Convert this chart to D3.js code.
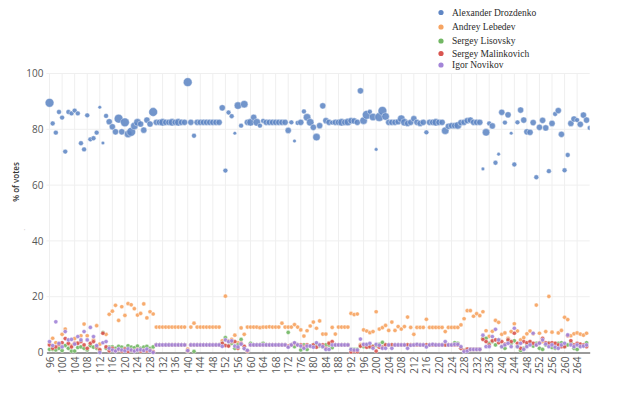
<!DOCTYPE html>
<html><head><meta charset="utf-8">
<script src="https://cdn.jsdelivr.net/npm/d3@7"></script>
<style>body{margin:0;background:#fff}</style>
</head><body><svg id="c" width="624" height="396"></svg>
<script>
// precinct numbers start at 96, one value per precinct
const firstPrecinct = 96;
const seriesNames = ["Alexander Drozdenko","Andrey Lebedev","Sergey Lisovsky","Sergey Malinkovich","Igor Novikov"];
const seriesColors = ["#5f86c4","#f6a462","#72b764","#d95550","#a385d8"];
const xTickLabels = d3.range(96, 268, 4);
const yTickLabels = [0,20,40,60,80,100];

const drozdenko = [
89.5,82.1,78.8,86.2,84.2,72,86.2,85.7,86.7,85.7,
75,72.8,85,76.4,76.8,78.8,87.9,75.1,84.8,82.7,
80.9,79.1,83.8,79.1,82.5,78.3,79.1,81.2,82.5,81.9,
79.7,83.3,81.9,86.2,82.5,82.5,82.5,82.5,82.5,82.5,
82.5,82.5,82.5,82.5,96.9,82.5,77.7,82.5,82.5,82.5,
82.5,82.5,82.5,82.5,82.5,87.7,65.2,86,84.7,78.6,
88.5,81.3,89,82.5,82.5,84.3,82.5,81.3,83,82.5,
82.5,82.5,82.5,82.5,82.5,82.5,79.6,82.5,75.8,82.3,
82.5,86.4,84.3,82.5,80.7,77.2,81.3,88.4,83.1,82.5,
82.4,82.5,82.5,82.5,82.5,82.6,83.1,83,82.5,93.8,
83.1,85.2,86.3,84.4,72.8,84.4,86.6,84.6,82.5,82.5,
82.5,82.7,83.8,82.5,82.1,82.5,83.8,82.5,82.1,82.5,
78.9,82.5,82.5,82.5,82.5,82.5,79.5,81.1,81.3,81.3,
81.4,82.4,82.5,83.1,83.3,82.5,82.5,82.5,65.8,78.9,
82.1,81.2,68,71.1,86.1,82.4,85.2,78.6,67.4,82.5,
86.9,83.3,79.1,78.9,82.4,62.8,80.7,83.2,80.5,65,
82.1,85.5,86.7,78.2,65.3,70.8,82.1,83.7,83.3,81.8,
85.1,83.3,80.5];
// relative marker weight (1 small .. 5 large)
const drozdenkoWeight = [
5,2,2,2,2,2,2,2,2,2,
2,2,2,2,2,2,1,1,2,3,
3,3,5,3,5,4,5,4,4,3,
3,3,3,5,3,3,4,3,3,4,
3,4,3,3,5,3,2,3,3,3,
3,3,3,3,3,3,2,2,2,1,
4,2,4,3,4,3,4,2,2,3,
3,3,3,3,3,3,3,2,1,2,
3,2,4,4,3,4,3,3,3,3,
2,3,3,4,3,4,3,3,3,3,
4,5,2,4,1,5,5,4,3,3,
3,3,4,4,3,3,3,3,3,3,
2,3,3,4,3,3,4,3,3,3,
4,3,3,3,3,3,3,3,1,4,
2,3,2,1,3,2,3,1,2,2,
3,3,3,3,3,2,3,3,3,2,
3,2,3,3,2,2,3,3,2,3,
3,3,2];
const lebedev = [
3,5.1,3.5,2.5,6.5,8.4,3,2.5,5,3.5,
6,10.2,6,2.5,4.5,9.6,3,6.9,6.5,13.7,
14.8,16.9,11.5,16.4,13.3,17.5,17.1,15.7,13.4,14,
17.4,12.4,14.6,13.8,9.1,9.1,9.1,9.1,9.1,9.1,
9.1,9.1,9.1,9.1,1.2,9.1,10.5,9.1,9.1,9.1,
9.1,9.1,9.1,9.1,9.1,4.2,20.2,4.2,4.7,6.2,
3.5,8.8,6.5,9.1,9.1,9.1,9.1,8.9,9.1,9.1,
9.2,9.1,9.1,9.1,10.5,9.1,9.1,9.1,10,9.1,
8.1,5.9,7.8,9.5,10.9,8.7,11.3,6.6,6.6,3.5,
9,6.6,9.1,9.1,9.1,9.1,14,13.6,13.8,2.8,
8.1,7.7,7.1,7.5,14.6,8.4,8.9,9.7,7.9,10.9,
7.9,9.3,8.4,9.3,12.7,9,6.5,9,9,9,
11.9,9,9,9,9,9,7.5,9,9,9,
9,9.9,12.1,15,15,13,13.9,13.2,14.6,7.8,
5.8,7.6,11.5,10.8,6.5,7,5.1,7.5,10.3,7.7,
4.5,5.3,6.7,7.7,6.7,17,6.9,3.9,7.5,20.1,
7.3,3.3,7,7.9,12.6,11.8,6,6.7,7,6.6,
6.2,6.9];
const lisovsky = [
1.1,1.1,0.9,1.5,0.7,2.5,1.5,0.5,0.5,1.8,
2,1.5,0.9,2.5,1.9,1.5,0.5,7.1,1.5,1.9,
2,1.5,2.2,1.9,1.5,2.4,1.9,1.7,2.3,1.5,
1.9,2.2,1.5,2,2.7,2.7,2.7,2.7,2.7,2.7,
2.7,2.7,2.7,2.7,0.4,2.7,0.4,2.7,2.7,2.7,
2.7,2.7,2.7,2.7,2.7,3.3,5.3,2.5,3.3,1.5,
2.7,4.7,1.5,0.5,3.3,2.7,2.7,2.7,3.3,2.7,
2.7,2.7,2.7,2.7,2.7,2.7,7.2,2.7,2.1,2.7,
0.9,2.7,1.1,2.3,2.7,2.7,2.3,2.1,2.7,2.7,
1.7,2.7,2.7,2.7,2.7,2.7,1.1,1.1,1.1,2.3,
2.1,2.7,1.9,2.3,2.5,2.9,3.6,2.7,2.7,2.7,
2.7,2.7,2.7,2.7,2.7,2.7,2.7,2.7,2.7,2.7,
2.7,2.7,2.7,2.7,2.7,2.7,2.7,2.7,2.7,3.5,
3.3,1.5,0.7,1.1,1.1,1.1,1.1,1.1,5.1,5.1,
3.3,3.9,2.7,4.5,2.1,1.5,4.5,3.3,4.2,2.1,
0.7,1.5,2.7,3.6,2.3,3.3,1.5,1.1,2.7,3.5,
1.8,1.5,3.3,3.5,2.1,2.7,3.5,1.5,1.1,2.7,
2.3,3.5];
const malinkovich = [
2.7,1.5,2,2.9,3.5,5,3.3,2,3.3,3.3,
3.9,2.7,1.5,3.3,3.9,2,1,6.9,2,0.6,
1.5,0.6,1,0.5,1.2,0.4,0.8,0.6,1,0.5,
0.8,0.6,0.8,0.3,2.7,2.7,2.7,2.7,2.7,2.7,
2.7,2.7,2.7,2.7,0.5,2.7,2.7,2.7,2.7,2.7,
2.7,2.7,2.7,2.7,2.7,3.3,2.5,2.3,3.9,3.9,
1.5,3.3,2.2,0.5,2.7,2.7,2.7,2.7,2.7,2.7,
2.7,2.7,2.7,2.7,2.7,2.7,2.3,2.7,3.3,2.7,
2.7,1.9,2.7,2.3,2.7,1.9,2.7,2.7,1.5,3.3,
3.9,2.7,2.7,2.7,2.7,2.7,0.2,0.5,0.3,2.3,
2.7,1.9,2.1,2.1,0.5,1.9,1.9,2.7,2.7,2.7,
2.7,2.7,2.7,2.7,2.7,2.7,2.7,2.7,2.7,2.7,
2.7,2.7,2.7,2.7,2.7,2.7,2.7,2.7,2.7,2.7,
2.7,1.5,0.7,1.2,1.1,1.1,1.1,1.1,4.7,3.9,
2.7,4.2,4.5,3.5,3.9,3,4.5,3.9,6.9,3.3,
1.5,3.9,3.5,3.9,3.3,2.7,3.5,5.1,3.5,3.3,
3.5,3.3,2.7,2.1,2.1,6,4.2,2.7,3.3,3,
2.7,2.1];
const novikov = [
3.9,2.5,11,3.3,2,7.5,4.5,4.7,3,5.7,
4.5,7.5,4.5,9,5.7,2.5,0,3.5,3.9,1.5,
0.9,0.5,1.2,0.9,0.6,1.3,0.9,0.5,0.9,1,
0.7,1.2,0.6,0,2.7,2.7,2.7,2.7,2.7,2.7,
2.7,2.7,2.7,2.7,0.7,2.7,2.7,2.7,2.7,2.7,
2.7,2.7,2.7,2.7,2.7,2.2,4.5,3.9,4.2,2.3,
2,3,1.4,0.8,2.7,2.7,2.7,2.7,2.7,2.7,
2.7,2.7,2.7,2.7,2.7,2.7,1.9,2.7,3.5,2.7,
2.3,1.5,2.3,2.3,1.9,3.5,2.7,2.1,1.1,1.1,
2.7,2.7,2.7,2.7,2.7,2.7,1.1,0.9,0.9,4.8,
2.9,2.9,3.3,1.5,2.9,2.6,1.5,1.5,2.7,1.5,
2.7,2.7,2.7,2.7,1.5,2.6,2.7,2.9,2.7,2.7,
2,2.7,2.9,2.7,2.7,2.7,3.9,2.7,2.7,2.9,
2.9,2.1,0.3,0.5,1.1,1.1,1.1,1.1,6.2,2.1,
2.1,5.7,8.3,4.5,2.1,2.7,3.3,2.1,8.7,2.1,
3.3,1.1,2.1,2.7,6.9,2.7,3.3,4.5,3,2.1,
2.7,1.9,1.5,2.7,3.3,6.3,2.7,2.1,2.7,2.1,
2.3,2.7];

const svg = d3.select("#c");
const W = 624, H = 396;
const x = d3.scaleLinear().domain([95, 268]).range([46.4, 589.7]);
const y = d3.scaleLinear().domain([0, 100]).range([352.5, 73.5]);
const rScale = d3.scaleLinear().domain([1, 5]).range([1.8, 4.4]);

svg.append("rect").attr("width", W).attr("height", H).attr("fill", "#fff");

// grid
const grid = svg.append("g");
grid.selectAll("line.v").data(xTickLabels).join("line")
  .attr("x1", d => x(d)).attr("x2", d => x(d))
  .attr("y1", y(100)).attr("y2", y(0))
  .attr("stroke", "#efefef").attr("stroke-width", 1);
grid.selectAll("line.h").data(yTickLabels.filter(d => d > 0)).join("line")
  .attr("x1", x.range()[0]).attr("x2", x.range()[1])
  .attr("y1", d => y(d)).attr("y2", d => y(d))
  .attr("stroke", "#efefef").attr("stroke-width", 1);

// axes
const xAxis = d3.axisBottom(x).tickValues(xTickLabels).tickSize(0).tickPadding(4).tickFormat(d3.format("d"));
const gx = svg.append("g").attr("transform", `translate(0,${y(0)})`).call(xAxis);
gx.select(".domain").attr("stroke", "#9a9a9a").attr("stroke-width", 2);
gx.selectAll("text")
  .attr("transform", "rotate(-90)")
  .attr("x", -4).attr("y", 0).attr("dy", "0.35em")
  .attr("text-anchor", "end")
  .attr("fill", "#555").style("font-family", "'Open Sans', sans-serif").style("font-size", "10px");

const yAxis = d3.axisLeft(y).tickValues(yTickLabels).tickSize(0).tickPadding(3);
const gy = svg.append("g").attr("transform", `translate(${x.range()[0]},0)`).call(yAxis);
gy.select(".domain").remove();
gy.selectAll("text").attr("fill", "#555").style("font-family", "'Open Sans', sans-serif").style("font-size", "10px");

svg.append("text").attr("transform", "translate(19,182) rotate(-90)")
  .attr("text-anchor", "middle").attr("fill", "#333")
  .style("font-family", "'Open Sans', sans-serif").style("font-size", "8px").style("font-weight", "600")
  .text("% of votes");
svg.append("text").attr("x", 24).attr("y", 233).attr("fill", "#bbb")
  .style("font-family", "sans-serif").style("font-size", "6px").text("'");

// clip
svg.append("clipPath").attr("id", "plotclip").append("rect")
  .attr("x", x.range()[0] - 3).attr("y", 55).attr("width", x.range()[1] - x.range()[0] + 3).attr("height", 310);
const plot = svg.append("g").attr("clip-path", "url(#plotclip)");

const lowSeries = [lebedev, lisovsky, malinkovich, novikov];
// Drozdenko
plot.append("g").selectAll("circle").data(drozdenko).join("circle")
  .attr("cx", (d, i) => x(firstPrecinct + i)).attr("cy", d => y(d))
  .attr("r", (d, i) => rScale(drozdenkoWeight[i]))
  .attr("fill", seriesColors[0]).attr("fill-opacity", 0.88)
  .attr("stroke", "#fff").attr("stroke-width", 0.4);

lowSeries.forEach((s, k) => {
  plot.append("g").selectAll("circle").data(s).join("circle")
    .attr("cx", (d, i) => x(firstPrecinct + i)).attr("cy", d => y(d))
    .attr("r", 2.1)
    .attr("fill", seriesColors[k + 1]).attr("fill-opacity", 0.92)
    .attr("stroke", "#fff").attr("stroke-width", 0.4);
});

// legend
const leg = svg.append("g");
const legY = [12.5, 27, 41, 53.5, 65];
seriesNames.forEach((n, i) => {
  leg.append("circle").attr("cx", 441).attr("cy", legY[i]).attr("r", 2.6).attr("fill", seriesColors[i]);
  leg.append("text").attr("x", 452).attr("y", legY[i]).attr("dy", "0.35em")
    .attr("fill", "#2a2a2a").style("font-family", "'Liberation Serif', serif").style("font-size", "9.5px")
    .text(n);
});
</script></body></html>
